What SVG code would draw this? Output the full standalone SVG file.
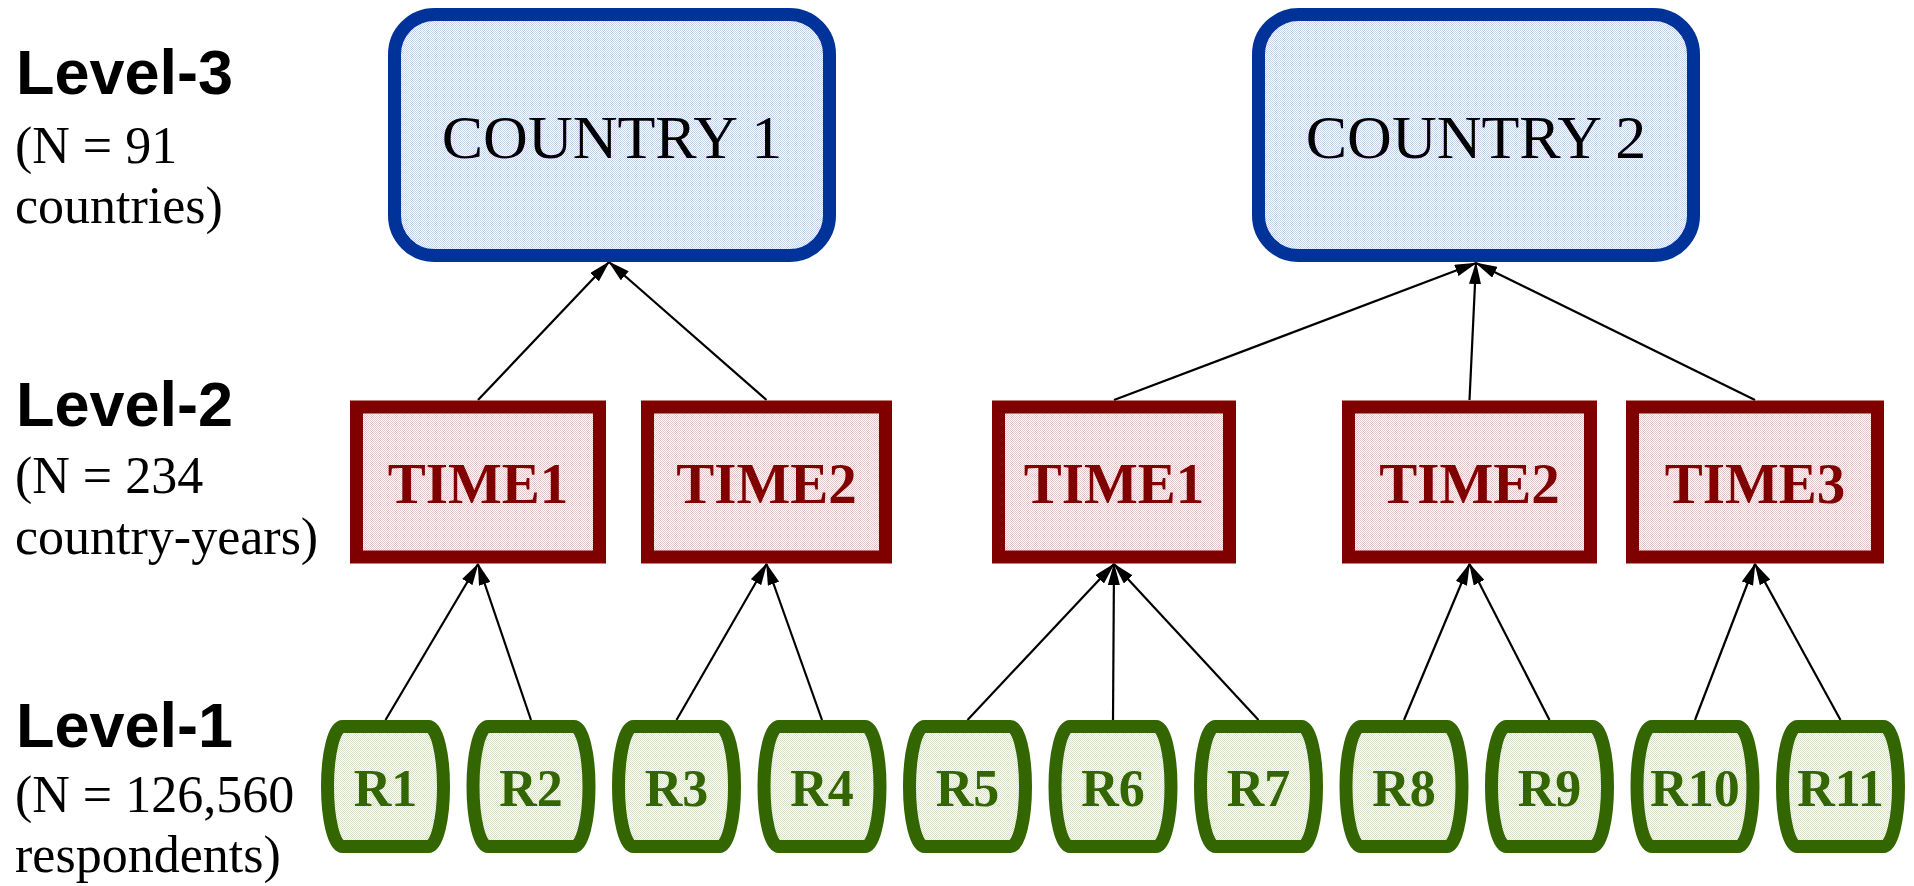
<svg xmlns="http://www.w3.org/2000/svg" width="1914" height="886" viewBox="0 0 1914 886">
  <style>
    .lvl { font-family: "Liberation Sans", Arial, sans-serif; font-weight: bold; font-size: 63px; fill: #000; }
    .note { font-family: "Liberation Serif", "Times New Roman", serif; font-size: 52px; fill: #000; }
    .country rect { fill: url(#dotBlue); stroke: #003399; stroke-width: 13; }
    .country text { font-family: "Liberation Serif", "Times New Roman", serif; font-size: 62px; fill: #000; text-anchor: middle; }
    .time rect { fill: url(#dotRed); stroke: #800000; stroke-width: 13; }
    .time text { font-family: "Liberation Serif", "Times New Roman", serif; font-weight: bold; font-size: 57px; fill: #800000; text-anchor: middle; }
    .resp rect { fill: url(#dotGreen); stroke: #336600; stroke-width: 13; }
    .resp text { font-family: "Liberation Serif", "Times New Roman", serif; font-weight: bold; font-size: 52px; fill: #336600; text-anchor: middle; }
    .edge { stroke: #000; stroke-width: 2.2; fill: none; marker-end: url(#head); }
  </style>
  <defs>
    <pattern id="dotBlue" width="2" height="2" patternUnits="userSpaceOnUse">
      <rect width="2" height="2" fill="#fff"/>
      <rect width="1" height="1" fill="#c3cfea"/>
      <rect x="1" y="1" width="1" height="1" fill="#c3cfea"/>
    </pattern>
    <pattern id="dotRed" width="2" height="2" patternUnits="userSpaceOnUse">
      <rect width="2" height="2" fill="#fff"/>
      <rect width="1" height="1" fill="#e4c4c4"/>
      <rect x="1" y="1" width="1" height="1" fill="#e4c4c4"/>
    </pattern>
    <pattern id="dotGreen" width="2" height="2" patternUnits="userSpaceOnUse">
      <rect width="2" height="2" fill="#fff"/>
      <rect width="1" height="1" fill="#d4e0c8"/>
      <rect x="1" y="1" width="1" height="1" fill="#d4e0c8"/>
    </pattern>
    <marker id="head" markerUnits="userSpaceOnUse" markerWidth="22" markerHeight="12" refX="21" refY="6" orient="auto">
      <path d="M0,0 L22,6 L0,12 Z" fill="#000"/>
    </marker>
  </defs>

  <!-- level captions -->
  <g id="level-3">
    <text class="lvl" x="16" y="94">Level-3</text>
    <text class="note" x="15" y="163">(N = 91</text>
    <text class="note" x="15" y="223">countries)</text>
  </g>
  <g id="level-2">
    <text class="lvl" x="16" y="426">Level-2</text>
    <text class="note" x="15" y="493">(N = 234</text>
    <text class="note" x="15" y="554">country-years)</text>
  </g>
  <g id="level-1">
    <text class="lvl" x="16" y="747">Level-1</text>
    <text class="note" x="15" y="812">(N = 126,560</text>
    <text class="note" x="15" y="872">respondents)</text>
  </g>

  <!-- connectors: child top-centre to parent bottom-centre -->
  <g id="connectors">
    <line class="edge" x1="478" y1="400" x2="609" y2="262"/>
    <line class="edge" x1="766.5" y1="400" x2="609" y2="262"/>
    <line class="edge" x1="1114" y1="400" x2="1476" y2="263"/>
    <line class="edge" x1="1469.5" y1="400" x2="1476" y2="263"/>
    <line class="edge" x1="1755" y1="400" x2="1476" y2="263"/>

    <line class="edge" x1="385.5" y1="720" x2="478" y2="564"/>
    <line class="edge" x1="531" y1="720" x2="478" y2="564"/>
    <line class="edge" x1="676.5" y1="720" x2="766.5" y2="564"/>
    <line class="edge" x1="822" y1="720" x2="766.5" y2="564"/>
    <line class="edge" x1="967.5" y1="720" x2="1114" y2="564"/>
    <line class="edge" x1="1113" y1="720" x2="1114" y2="564"/>
    <line class="edge" x1="1258.5" y1="720" x2="1114" y2="564"/>
    <line class="edge" x1="1404" y1="720" x2="1469.5" y2="564"/>
    <line class="edge" x1="1549.5" y1="720" x2="1469.5" y2="564"/>
    <line class="edge" x1="1695" y1="720" x2="1755" y2="564"/>
    <line class="edge" x1="1840.5" y1="720" x2="1755" y2="564"/>
  </g>

  <!-- countries -->
  <g id="country1" class="country">
    <rect x="394.5" y="14.5" width="435" height="241" rx="40"/>
    <text x="612" y="158">COUNTRY 1</text>
  </g>
  <g id="country2" class="country">
    <rect x="1258.5" y="14.5" width="435" height="241" rx="40"/>
    <text x="1476" y="158">COUNTRY 2</text>
  </g>

  <!-- country-years -->
  <g id="c1-time1" class="time">
    <rect x="356.5" y="407" width="243" height="150"/>
    <text x="478" y="503">TIME1</text>
  </g>
  <g id="c1-time2" class="time">
    <rect x="647.5" y="407" width="238" height="150"/>
    <text x="766.5" y="503">TIME2</text>
  </g>
  <g id="c2-time1" class="time">
    <rect x="998.5" y="407" width="231" height="150"/>
    <text x="1114" y="503">TIME1</text>
  </g>
  <g id="c2-time2" class="time">
    <rect x="1348.5" y="407" width="242" height="150"/>
    <text x="1469.5" y="503">TIME2</text>
  </g>
  <g id="c2-time3" class="time">
    <rect x="1632.5" y="407" width="245" height="150"/>
    <text x="1755" y="503">TIME3</text>
  </g>

  <!-- respondents -->
  <g id="r1" class="resp"><rect x="327.5" y="726.5" width="116" height="120" rx="15" ry="60"/><text x="385.5" y="806">R1</text></g>
  <g id="r2" class="resp"><rect x="473" y="726.5" width="116" height="120" rx="15" ry="60"/><text x="531" y="806">R2</text></g>
  <g id="r3" class="resp"><rect x="618.5" y="726.5" width="116" height="120" rx="15" ry="60"/><text x="676.5" y="806">R3</text></g>
  <g id="r4" class="resp"><rect x="764" y="726.5" width="116" height="120" rx="15" ry="60"/><text x="822" y="806">R4</text></g>
  <g id="r5" class="resp"><rect x="909.5" y="726.5" width="116" height="120" rx="15" ry="60"/><text x="967.5" y="806">R5</text></g>
  <g id="r6" class="resp"><rect x="1055" y="726.5" width="116" height="120" rx="15" ry="60"/><text x="1113" y="806">R6</text></g>
  <g id="r7" class="resp"><rect x="1200.5" y="726.5" width="116" height="120" rx="15" ry="60"/><text x="1258.5" y="806">R7</text></g>
  <g id="r8" class="resp"><rect x="1346" y="726.5" width="116" height="120" rx="15" ry="60"/><text x="1404" y="806">R8</text></g>
  <g id="r9" class="resp"><rect x="1491.5" y="726.5" width="116" height="120" rx="15" ry="60"/><text x="1549.5" y="806">R9</text></g>
  <g id="r10" class="resp"><rect x="1637" y="726.5" width="116" height="120" rx="15" ry="60"/><text x="1695" y="806">R10</text></g>
  <g id="r11" class="resp"><rect x="1782.5" y="726.5" width="116" height="120" rx="15" ry="60"/><text x="1840.5" y="806">R11</text></g>
</svg>
